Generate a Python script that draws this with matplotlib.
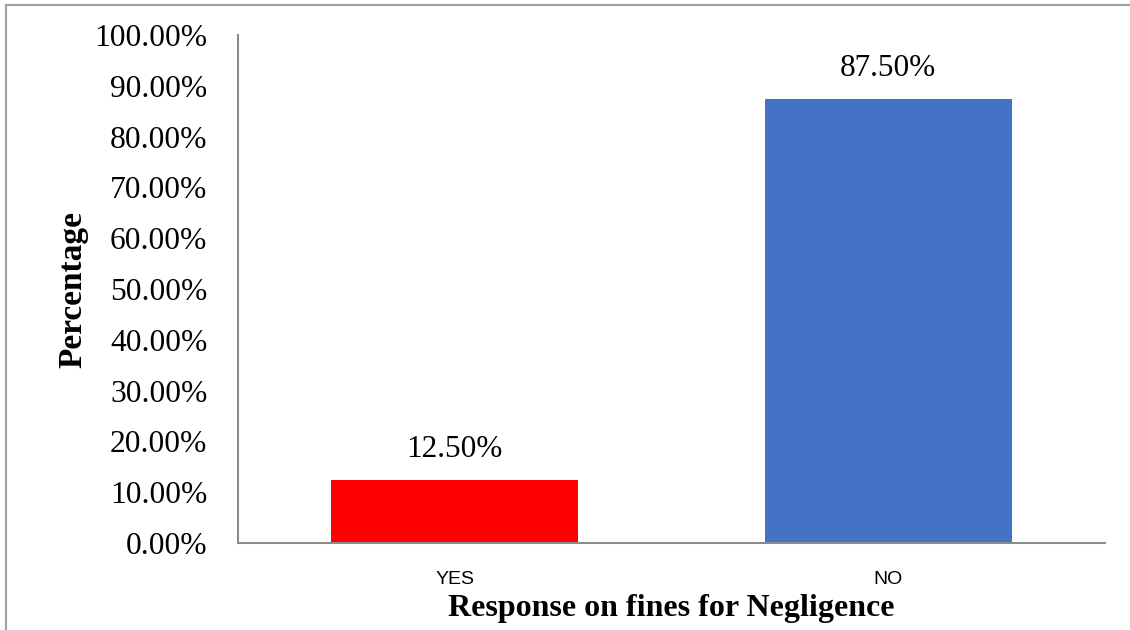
import matplotlib.pyplot as plt
from matplotlib.ticker import PercentFormatter
from matplotlib.lines import Line2D

# respuestas y porcentajes
respuestas = ["YES", "NO"]
porcentajes = [12.50, 87.50]
colores = ["#FF0000", "#4472C4"]

fig = plt.figure(figsize=(11.3, 6.3), dpi=100)
ax = fig.add_axes([0.2106, 0.138, 0.7673, 0.8064])

barras = ax.bar(respuestas, porcentajes, width=0.57, color=colores)

# etiquetas de valor encima de cada barra
for b, v in zip(barras, porcentajes):
    ax.annotate(f"{v:.2f}%", (b.get_x() + b.get_width() / 2, v),
                xytext=(0, 11), textcoords="offset points",
                ha="center", va="bottom", fontsize=22.5, family="Liberation Serif")

ax.set_ylim(0, 100)
ax.set_xlim(-0.5, 1.5)
ax.set_yticks(range(0, 101, 10))
ax.yaxis.set_major_formatter(PercentFormatter(decimals=2))
ax.tick_params(length=0)
ax.tick_params(axis="y", labelsize=22.7, pad=22)
ax.tick_params(axis="x", labelsize=14, pad=20)
for t in ax.get_yticklabels():
    t.set_family("Liberation Serif")
for t in ax.get_xticklabels():
    t.set_family("Liberation Sans")

for s in ["top", "right"]:
    ax.spines[s].set_visible(False)
for s in ["left", "bottom"]:
    ax.spines[s].set_color("#8c8c8c")
    ax.spines[s].set_linewidth(1.5)

ax.set_ylabel("Percentage", fontsize=24, fontweight="bold", family="Liberation Serif")
ax.set_xlabel("Response on fines for Negligence", fontsize=23, fontweight="bold",
              family="Liberation Serif")
ax.yaxis.set_label_coords(-0.172, 0.5)
ax.xaxis.set_label_coords(0.5, -0.1)

# borde del área del gráfico
fig.add_artist(Line2D([0.005, 0.005], [0, 0.992], color="#a0a0a0", lw=1.5))
fig.add_artist(Line2D([0.005, 1.0], [0.992, 0.992], color="#a0a0a0", lw=1.5))

fig.savefig("out.png", dpi=100)
